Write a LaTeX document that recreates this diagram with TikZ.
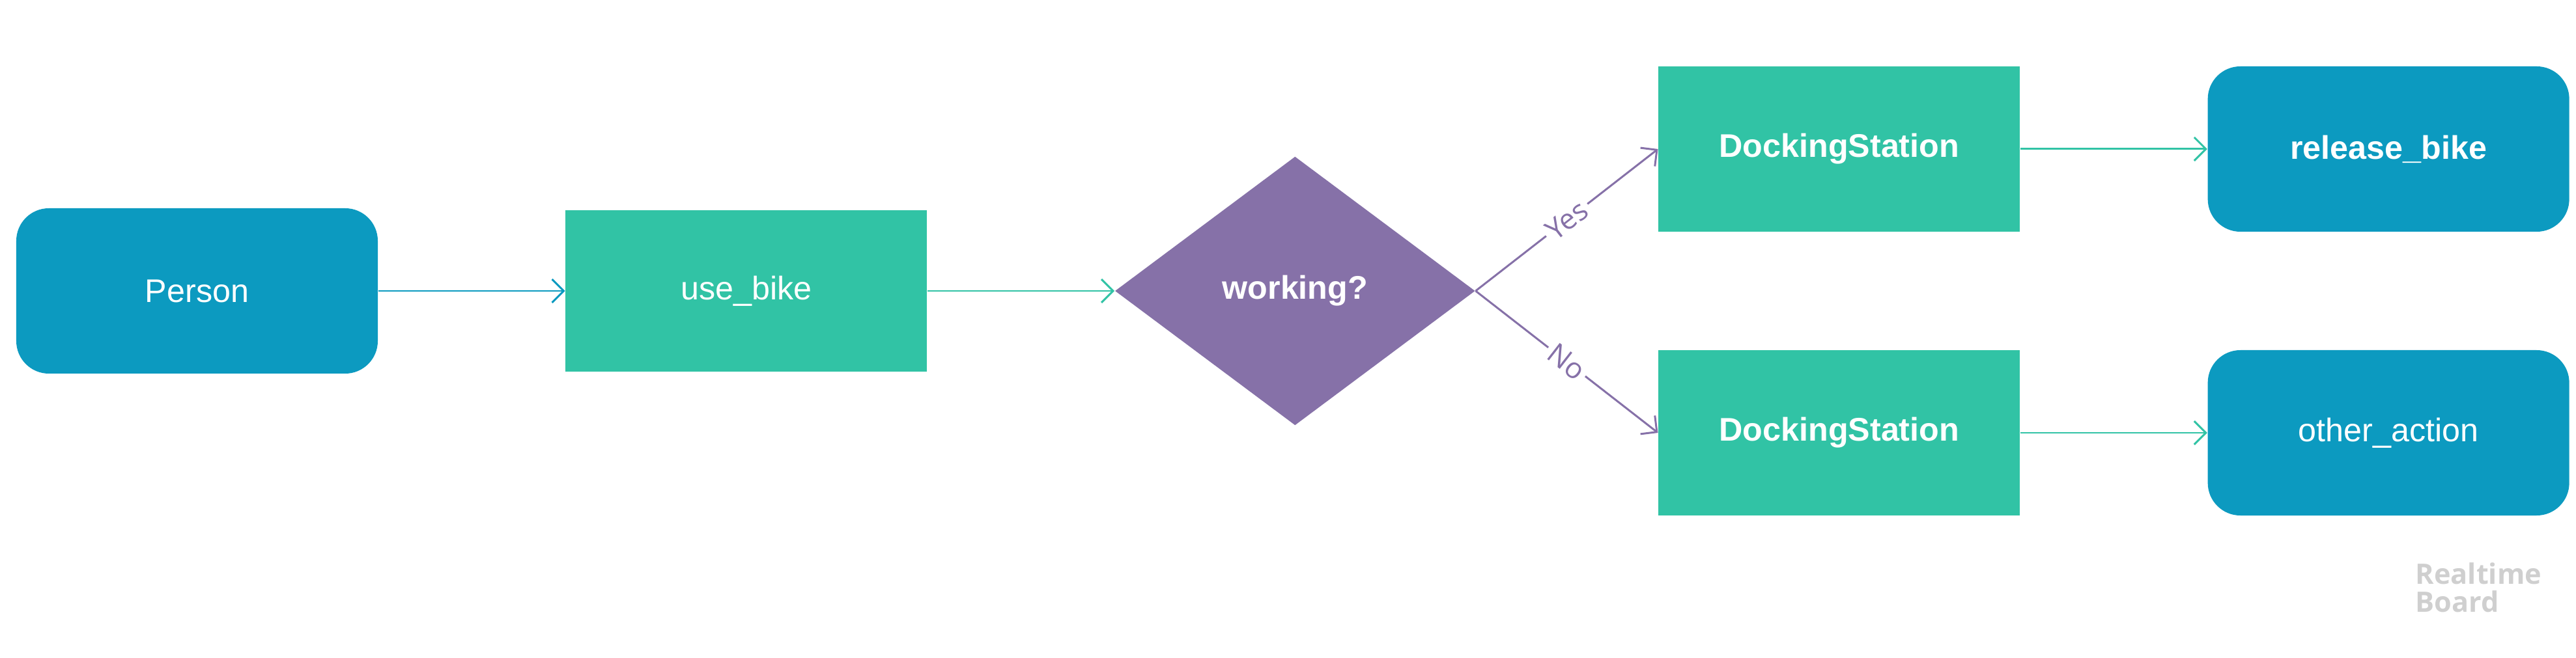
\documentclass[tikz,border=0pt]{standalone}
\usepackage{fontspec}
\setmainfont{Liberation Sans}
\newfontfamily\labelfont{Open Sans}
\usepackage{xcolor}
\usepackage{tikz}
\usetikzlibrary{positioning, arrows.meta, shapes.geometric}

\definecolor{actorblue}{HTML}{0C9AC0}
\definecolor{stepgreen}{HTML}{31C3A5}
\definecolor{choicepurple}{HTML}{8671A8}
\definecolor{logogray}{HTML}{CFCFCF}

\begin{document}
\begin{tikzpicture}[
    actorbox/.style={rectangle, rounded corners=0.5cm, fill=actorblue, text=white, minimum width=5.55cm, minimum height=2.54cm, inner sep=0pt, font=\fontsize{14.3}{17}\selectfont},
    stepbox/.style={rectangle, fill=stepgreen, text=white, minimum width=5.55cm, minimum height=2.54cm, inner sep=0pt, font=\fontsize{14.3}{17}\selectfont},
    choicenode/.style={diamond, fill=choicepurple, text=white, minimum width=5.53cm, minimum height=4.13cm, inner sep=0pt, font=\bfseries\fontsize{14.3}{17}\selectfont},
    flowarrow/.style={line width=0.85pt, -{Straight Barb[length=0.18cm, width=0.36cm, line width=0.85pt]}},
    answer/.style={midway, sloped, fill=white, inner sep=0.06cm, text=choicepurple, font=\labelfont\fontsize{12.5}{14}\selectfont},
]
\useasboundingbox (0,0) rectangle (39.55,-10.11);
\node[actorbox](person) at (3.025,-4.47){Person};
\node[stepbox, minimum height=2.48cm](usebike)[right = 2.87cm of person]{use\_bike};
\node[choicenode](working)[right = 2.87cm of usebike]{working?};
\node[stepbox, font=\bfseries\fontsize{14.3}{17}\selectfont](dockyes)[right = 2.8cm of working, yshift=2.18cm]{DockingStation};
\node[stepbox, font=\bfseries\fontsize{14.3}{17}\selectfont](dockno)[right = 2.8cm of working, yshift=-2.18cm]{DockingStation};
\node[actorbox, font=\bfseries\fontsize{14.3}{17}\selectfont](release)[right = 2.87cm of dockyes]{release\_bike};
\node[actorbox](other)[right = 2.87cm of dockno]{other\_action};

\draw[flowarrow, actorblue] (person) -- (usebike);
\draw[flowarrow, stepgreen] (usebike) -- (working);
\draw[flowarrow, choicepurple] (working.east) -- (dockyes.west) node[answer]{Yes};
\draw[flowarrow, choicepurple] (working.east) -- (dockno.west) node[answer]{No};
\draw[flowarrow, stepgreen] (dockyes) -- (release);
\draw[flowarrow, stepgreen] (dockno) -- (other);

% watermark
\node[anchor=north west, align=left, inner sep=0pt, text=logogray, font=\labelfont\bfseries\fontsize{12.3}{12.2}\selectfont](logo) at (37.08,-8.64){Realtime\\Board};
\end{tikzpicture}
\end{document}
